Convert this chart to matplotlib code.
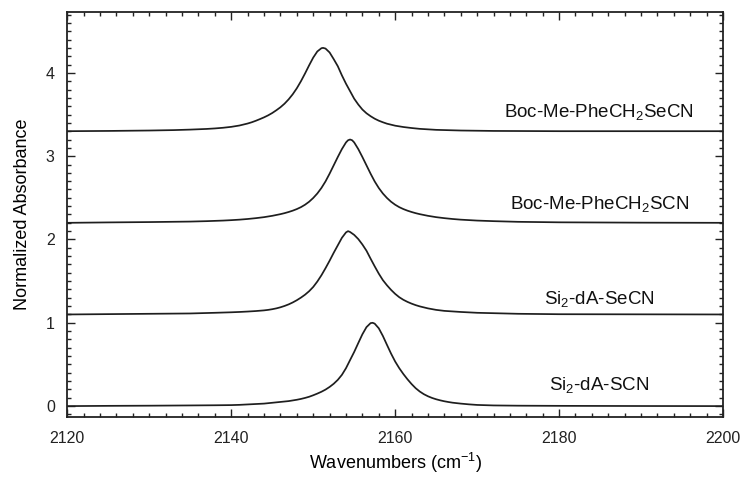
import numpy as np
import matplotlib
matplotlib.use('Agg')
import matplotlib.pyplot as plt
from matplotlib.ticker import MultipleLocator

plt.rcParams['font.family'] = ['Liberation Sans', 'DejaVu Sans']
plt.rcParams['mathtext.fontset'] = 'custom'
plt.rcParams['mathtext.rm'] = 'Liberation Sans'
plt.rcParams['mathtext.it'] = 'Liberation Sans'

# spectra (wavenumber in cm-1, normalized absorbance):
scn_wn = [2120, 2125, 2130, 2135, 2138, 2140, 2141, 2142, 2143, 2144, 2145,
          2146, 2146.5, 2147, 2147.5, 2148, 2148.5, 2149, 2149.5, 2150,
          2150.5, 2151, 2151.5, 2152, 2152.5, 2153, 2153.5, 2154, 2154.5,
          2155, 2155.5, 2156, 2156.5, 2157, 2157.25, 2157.5, 2158, 2158.5,
          2159, 2159.5, 2160, 2160.5, 2161, 2161.5, 2162, 2162.5, 2163,
          2163.5, 2164, 2164.5, 2165, 2165.5, 2166, 2166.5, 2167, 2168, 2169,
          2170, 2172, 2175, 2180, 2190, 2200]
scn_abs = [0.0, 0.003, 0.005, 0.008, 0.01, 0.012, 0.015, 0.02, 0.025, 0.03,
           0.04, 0.05, 0.055, 0.06, 0.068, 0.076, 0.086, 0.098, 0.112, 0.13,
           0.15, 0.172, 0.198, 0.23, 0.268, 0.315, 0.375, 0.455, 0.553,
           0.65, 0.757, 0.862, 0.948, 0.996, 1.0, 0.99, 0.934, 0.842, 0.735,
           0.63, 0.535, 0.455, 0.385, 0.322, 0.265, 0.215, 0.175, 0.143,
           0.118, 0.098, 0.082, 0.069, 0.058, 0.049, 0.041, 0.03, 0.021,
           0.014, 0.008, 0.005, 0.003, 0.001, 0.0]

secn_wn = [2120, 2125, 2130, 2135, 2138, 2140, 2141, 2142, 2143, 2144,
           2144.5, 2145, 2145.5, 2146, 2146.5, 2147, 2147.5, 2148, 2148.5,
           2149, 2149.5, 2150, 2150.5, 2151, 2151.5, 2152, 2152.5, 2153,
           2153.5, 2154, 2154.25, 2154.5, 2155, 2155.5, 2156, 2156.5, 2157,
           2157.5, 2158, 2158.5, 2159, 2159.5, 2160, 2160.5, 2161, 2161.5,
           2162, 2162.5, 2163, 2164, 2165, 2166, 2168, 2170, 2175, 2180, 2200]
secn_abs = [0.0, 0.004, 0.008, 0.012, 0.02, 0.026, 0.03, 0.035, 0.041,
            0.049, 0.055, 0.063, 0.073, 0.086, 0.102, 0.121, 0.144, 0.171,
            0.202, 0.237, 0.279, 0.33, 0.395, 0.47, 0.555, 0.645, 0.74, 0.83,
            0.92, 0.985, 1.0, 0.99, 0.955, 0.905, 0.84, 0.765, 0.67, 0.578,
            0.49, 0.412, 0.35, 0.295, 0.247, 0.207, 0.176, 0.151, 0.13,
            0.112, 0.097, 0.073, 0.055, 0.043, 0.03, 0.02, 0.008, 0.003, 0.0]

phe_scn_wn = [2120, 2125, 2130, 2135, 2137, 2139, 2140, 2141, 2142, 2143,
              2144, 2145, 2146, 2146.5, 2147, 2147.5, 2148, 2148.5, 2149,
              2149.5, 2150, 2150.5, 2151, 2151.5, 2152, 2152.5, 2153, 2153.5,
              2154, 2154.25, 2154.5, 2154.75, 2155, 2155.5, 2156, 2156.5,
              2157, 2157.5, 2158, 2158.5, 2159, 2159.5, 2160, 2160.5, 2161,
              2161.5, 2162, 2162.5, 2163, 2164, 2165, 2166, 2167, 2168, 2170,
              2172, 2175, 2180, 2190, 2200]
phe_scn_abs = [0.0, 0.005, 0.009, 0.015, 0.02, 0.027, 0.032, 0.038, 0.046,
               0.056, 0.068, 0.084, 0.104, 0.116, 0.13, 0.146, 0.165, 0.188,
               0.217, 0.253, 0.298, 0.352, 0.418, 0.497, 0.59, 0.69, 0.79,
               0.885, 0.965, 0.991, 1.0, 0.991, 0.965, 0.885, 0.79, 0.69,
               0.59, 0.497, 0.418, 0.352, 0.298, 0.253, 0.217, 0.188, 0.165,
               0.146, 0.13, 0.116, 0.104, 0.084, 0.068, 0.056, 0.046, 0.038,
               0.027, 0.02, 0.012, 0.006, 0.002, 0.0]

phe_secn_wn = [2120, 2125, 2130, 2133, 2135, 2137, 2138, 2139, 2140, 2141,
               2142, 2142.5, 2143, 2143.5, 2144, 2144.5, 2145, 2145.5, 2146,
               2146.5, 2147, 2147.5, 2148, 2148.5, 2149, 2149.5, 2150, 2150.5,
               2151, 2151.2, 2151.5, 2152, 2152.5, 2153, 2153.5, 2154, 2154.5,
               2155, 2155.5, 2156, 2156.5, 2157, 2157.5, 2158, 2158.5, 2159,
               2160, 2161, 2162, 2163, 2165, 2168, 2172, 2180, 2200]
phe_secn_abs = [0.0, 0.003, 0.008, 0.013, 0.019, 0.027, 0.033, 0.041, 0.052,
                0.068, 0.092, 0.107, 0.125, 0.145, 0.166, 0.19, 0.218, 0.251,
                0.287, 0.33, 0.382, 0.443, 0.515, 0.599, 0.692, 0.79, 0.883,
                0.957, 0.996, 1.0, 0.992, 0.945, 0.865, 0.78, 0.67, 0.57, 0.48,
                0.39, 0.32, 0.26, 0.215, 0.18, 0.15, 0.126, 0.107, 0.09, 0.066,
                0.05, 0.038, 0.028, 0.016, 0.008, 0.003, 0.0, 0.0]

names = [r'Si$_2$-dA-SCN', r'Si$_2$-dA-SeCN',
         r'Boc-Me-PheCH$_2$SCN', r'Boc-Me-PheCH$_2$SeCN']
offsets = [0.0, 1.1, 2.2, 3.3]
label_y = [0.25, 1.29, 2.42, 3.53]
label_x = 2184.9

spectra = [(scn_wn, scn_abs), (secn_wn, secn_abs),
           (phe_scn_wn, phe_scn_abs), (phe_secn_wn, phe_secn_abs)]

fig = plt.figure(figsize=(7.48, 4.82), dpi=100)
ax = fig.add_axes([0.09, 0.135, 0.8766, 0.84])

for (wn, a), off, name, ly in zip(spectra, offsets, names, label_y):
    ax.plot(wn, np.array(a) + off, color='#1e1e1e', lw=1.25)
    ax.text(label_x, ly, name, ha='center', va='center', fontsize=13.5,
            color='#111111')

ax.set_xlim(2120, 2200)
ax.set_ylim(-0.13, 4.73)
ax.xaxis.set_major_locator(MultipleLocator(20))
ax.xaxis.set_minor_locator(MultipleLocator(2))
ax.yaxis.set_major_locator(MultipleLocator(1))
ax.yaxis.set_minor_locator(MultipleLocator(0.1))
ax.tick_params(which='both', direction='in', top=True, right=True,
               labelsize=11.5, colors='#222222', width=1.0)
ax.tick_params(which='major', length=6)
ax.tick_params(axis='x', which='major', pad=10)
ax.tick_params(axis='y', which='major', pad=9)
ax.tick_params(which='minor', length=3)
for sp in ax.spines.values():
    sp.set_linewidth(1.3)
    sp.set_color('#222222')

ax.set_xlabel('Wavenumbers (cm$^{-1}$)', fontsize=13, labelpad=4)
ax.set_ylabel('Normalized Absorbance', fontsize=13, labelpad=11)

fig.savefig('out.png', dpi=100)
